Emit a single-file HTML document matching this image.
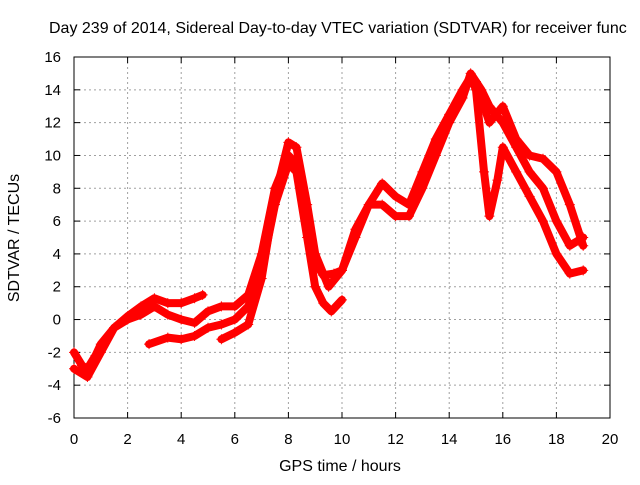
<!DOCTYPE html>
<html><head><meta charset="utf-8"><style>
body{margin:0;background:#fff}
svg text{font-family:"Liberation Sans",sans-serif;font-size:16px;fill:#000}
svg text.tk{font-size:15px}
</style></head><body>
<svg id="c" width="640" height="480"></svg>
<script>
const xTicks=[0,2,4,6,8,10,12,14,16,18,20];
const yTicks=[-6,-4,-2,0,2,4,6,8,10,12,14,16];
const s1=[[0,-2],[0.3,-2.8],[0.5,-3],[0.8,-2.2],[1,-1.5],[1.5,-0.5],[2,0.2],[2.5,0.8],[3,1.3],[3.5,1.0],[4,1.0],[4.5,1.3],[4.8,1.5]];
const s2=[[0,-3],[0.5,-3.5],[1,-2],[1.5,-0.5],[2,0],[2.5,0.3],[3,0.8],[3.5,0.3],[4,0],[4.5,-0.2],[5,0.5],[5.5,0.8],[6,0.8],[6.5,1.5],[7,4],[7.5,8],[8,10],[8.3,9.5],[8.7,6],[9,3.5],[9.3,2.7],[9.7,2.8],[10,3],[10.5,5],[11,7],[11.5,7],[12,6.3],[12.5,6.3],[13,8],[13.5,10],[14,12],[14.5,13.5],[14.8,15],[15.2,14],[15.5,13],[16,12],[16.5,10.5],[17,9],[17.5,8],[18,6],[18.5,4.5],[19,5]];
const s3=[[2.8,-1.5],[3.5,-1.1],[4,-1.2],[4.5,-1],[5,-0.5],[5.5,-0.3],[6,0],[6.5,0.8],[7,3],[7.5,7],[8,9.5],[8.3,9],[8.7,5],[9,2],[9.3,1],[9.6,0.5],[10,1.2]];
const s4=[[5.5,-1.2],[6,-0.8],[6.5,-0.3],[7,2.5],[7.5,7.5],[8,10.8],[8.3,10.5],[8.7,7],[9,4],[9.5,2],[10,3],[10.5,5.5],[11,7],[11.5,8.3],[12,7.5],[12.5,7],[13,9],[13.5,11],[14,12.5],[14.5,14],[14.8,14.8],[15,14],[15.3,9],[15.5,6.3],[15.8,8.5],[16,10.5],[16.5,9],[17,7.5],[17.5,6],[18,4],[18.5,2.8],[19,3]];
const s5=[[15,14.5],[15.5,12],[16,13],[16.5,11],[17,10],[17.5,9.8],[18,9],[18.5,7],[19,4.5]];
const series=[s1,s2,s3,s4,s5];
const NS="http://www.w3.org/2000/svg";
const L=74,R=610,T=57,B=418;
const X=v=>L+(v-0)/20*(R-L);
const Y=v=>B-(v+6)/22*(B-T);
const svg=document.getElementById('c');
function mk(t,a){const e=document.createElementNS(NS,t);for(const k in a)e.setAttribute(k,a[k]);svg.appendChild(e);return e;}
xTicks.forEach(t=>{
 const g=mk('line',{x1:X(t),x2:X(t),y1:T,y2:B,stroke:'#a0a0a0','stroke-dasharray':'2,3'});
 
 
 const tx=mk('text',{x:X(t),y:444,'text-anchor':'middle','class':'tk'});tx.textContent=t;
 
 
 mk('line',{x1:X(t),x2:X(t),y1:B,y2:B-6,stroke:'#000'});
 mk('line',{x1:X(t),x2:X(t),y1:T,y2:T+6,stroke:'#000'});
});
yTicks.forEach(t=>{
 const g=mk('line',{x1:L,x2:R,y1:Y(t),y2:Y(t),stroke:'#a0a0a0','stroke-dasharray':'2,3'});
 
 
 const tx=mk('text',{x:61,y:Y(t)+5,'text-anchor':'end','class':'tk'});tx.textContent=t;
 
 
 mk('line',{x1:L,x2:L+6,y1:Y(t),y2:Y(t),stroke:'#000'});
 mk('line',{x1:R,x2:R-6,y1:Y(t),y2:Y(t),stroke:'#000'});
});
const fr=mk('rect',{x:L,y:T,width:R-L,height:B-T,fill:'none',stroke:'#000'});


series.forEach((s,i)=>{
 const p=mk('polyline',{points:s.map(d=>X(d[0])+','+Y(d[1])).join(' '),fill:'none',stroke:'#f00','stroke-width':8,'stroke-linejoin':'round','stroke-linecap':'round'});
 
 
 s.forEach(d=>{
  const m=mk('path',{d:`M${X(d[0])-5},${Y(d[1])}h10M${X(d[0])},${Y(d[1])-5}v10`,stroke:'#f00','stroke-width':1});
  
  
 });
});
const ti=mk('text',{x:49,y:33});ti.textContent='Day 239 of 2014, Sidereal Day-to-day VTEC variation (SDTVAR) for receiver func';


const xt=mk('text',{x:340,y:471,'text-anchor':'middle'});xt.textContent='GPS time / hours';


const yt=mk('text',{x:0,y:0,'text-anchor':'middle',transform:'translate(19,238) rotate(-90)'});yt.textContent='SDTVAR / TECUs';


</script>
</body></html>
